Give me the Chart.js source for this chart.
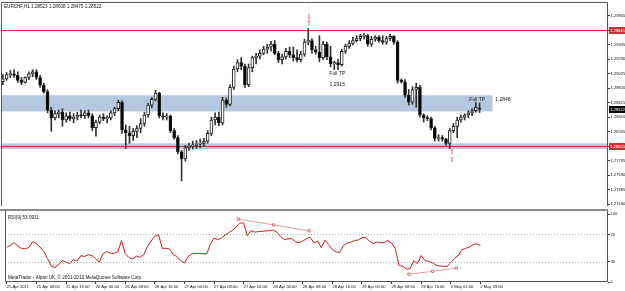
<!DOCTYPE html>
<html><head><meta charset="utf-8">
<script src="https://cdn.jsdelivr.net/npm/chart.js@4/dist/chart.umd.min.js"></script>
<style>
html,body{margin:0;padding:0;background:#fff;}
#wrap{position:relative;width:625px;height:291px;overflow:hidden;background:#fff;}
canvas{position:absolute;left:0;}
#c1{top:0;} #c2{top:209px;}
</style></head><body>
<div id="wrap"><canvas id="c1" width="625" height="209"></canvas><canvas id="c2" width="625" height="82"></canvas></div>
<script>
// ---------- DATA ----------
const symbolTitle = 'EURCHF,H1 1.28523 1.28608 1.28475 1.28522';
const copyrightText = 'MetaTrader - Alpari UK, \u00A9 2001-2010 MetaQuotes Software Corp.';
const rsiName = 'RSI(9)';
const timeLabels = ['25 Apr 2011','25 Apr 08:00','25 Apr 16:00','26 Apr 00:00','26 Apr 08:00','26 Apr 16:00','27 Apr 00:00','27 Apr 08:00','27 Apr 16:00','28 Apr 00:00','28 Apr 08:00','28 Apr 16:00','29 Apr 00:00','29 Apr 08:00','29 Apr 16:00','2 May 01:00','2 May 09:00'];
const barsPerLabel = 8;

const openP = [1.2891,1.2895,1.2901,1.2902,1.2900,1.2893,1.2890,1.2897,1.2902,1.2905,
1.2897,1.2886,1.2877,1.2851,1.2840,1.2846,1.2848,1.2837,1.2843,1.2839,
1.2841,1.2844,1.2843,1.2847,1.2843,1.2826,1.2834,1.2841,1.2839,1.2840,
1.2847,1.2853,1.2862,1.2823,1.2819,1.2815,1.2821,1.2825,1.2832,1.2844,
1.2858,1.2866,1.2875,1.2843,1.2841,1.2843,1.2822,1.2812,1.2792,1.2782,
1.2798,1.2800,1.2801,1.2803,1.2804,1.2807,1.2818,1.2837,1.2841,1.2833,
1.2865,1.2859,1.2883,1.2909,1.2918,1.2913,1.2887,1.2911,1.2925,1.2927,
1.2931,1.2937,1.2940,1.2944,1.2931,1.2922,1.2926,1.2934,1.2929,1.2925,
1.2922,1.2930,1.2947,1.2949,1.2936,1.2933,1.2925,1.2944,1.2926,1.2916,
1.2918,1.2915,1.2934,1.2941,1.2945,1.2949,1.2952,1.2955,1.2956,1.2944,
1.2951,1.2954,1.2949,1.2947,1.2952,1.2955,1.2947,1.2893,1.2891,1.2872,
1.2862,1.2880,1.2883,1.2844,1.2840,1.2839,1.2826,1.2811,1.2812,1.2810,
1.2804,1.2822,1.2828,1.2837,1.2841,1.2844,1.2847,1.2850,1.28523];
const highP = [1.2901,1.2904,1.2907,1.2908,1.2905,1.2897,1.2898,1.2905,1.2908,1.2908,
1.2900,1.2889,1.2880,1.2855,1.2850,1.2851,1.2853,1.2847,1.2848,1.2846,
1.2848,1.2851,1.2850,1.2851,1.2846,1.2837,1.2844,1.2846,1.2843,1.2850,
1.2855,1.2865,1.2864,1.2830,1.2828,1.2825,1.2829,1.2839,1.2848,1.2861,
1.2869,1.2879,1.2876,1.2847,1.2846,1.2844,1.2825,1.2815,1.2794,1.2801,
1.2804,1.2807,1.2808,1.2810,1.2811,1.2822,1.2841,1.2847,1.2848,1.2869,
1.2868,1.2887,1.2913,1.2922,1.2925,1.2916,1.2916,1.2927,1.2931,1.2936,
1.2941,1.2944,1.2948,1.2949,1.2934,1.2930,1.2938,1.2940,1.2940,1.2936,
1.2934,1.2951,1.2966,1.2952,1.2941,1.2956,1.2948,1.2947,1.2941,1.2920,
1.2923,1.2937,1.2944,1.2949,1.2954,1.2956,1.2958,1.2959,1.2958,1.2955,
1.2956,1.2956,1.2956,1.2955,1.2958,1.2956,1.2949,1.2895,1.2894,1.2880,
1.2884,1.2889,1.2886,1.2846,1.2843,1.2841,1.2828,1.2816,1.2815,1.2811,
1.2825,1.2832,1.2841,1.2844,1.2846,1.2850,1.2853,1.2862,1.28608];
const lowP = [1.2887,1.2893,1.2897,1.2897,1.2890,1.2887,1.2889,1.2894,1.2898,1.2894,
1.2883,1.2875,1.2847,1.2821,1.2837,1.2840,1.2828,1.2834,1.2836,1.2833,
1.2837,1.2840,1.2839,1.2840,1.2822,1.2814,1.2832,1.2836,1.2833,1.2837,
1.2843,1.2850,1.2818,1.2797,1.2804,1.2808,1.2812,1.2819,1.2828,1.2841,
1.2854,1.2864,1.2840,1.2837,1.2837,1.2819,1.2810,1.2789,1.2751,1.2779,
1.2794,1.2796,1.2797,1.2798,1.2800,1.2804,1.2815,1.2830,1.2829,1.2830,
1.2855,1.2857,1.2880,1.2905,1.2908,1.2883,1.2884,1.2905,1.2916,1.2923,
1.2929,1.2931,1.2934,1.2929,1.2918,1.2916,1.2923,1.2925,1.2920,1.2919,
1.2919,1.2927,1.2943,1.2931,1.2930,1.2919,1.2922,1.2922,1.2912,1.2908,
1.2908,1.2913,1.2931,1.2938,1.2943,1.2947,1.2949,1.2951,1.2941,1.2941,
1.2948,1.2947,1.2944,1.2944,1.2949,1.2944,1.2889,1.2889,1.2869,1.2858,
1.2859,1.2855,1.2841,1.2834,1.2836,1.2823,1.2807,1.2807,1.2807,1.2801,
1.2797,1.2819,1.2812,1.2834,1.2837,1.2840,1.2843,1.2848,1.28475];
const closeP = [1.2895,1.2901,1.2902,1.2900,1.2893,1.2890,1.2897,1.2902,1.2905,1.2897,
1.2886,1.2877,1.2851,1.2840,1.2846,1.2848,1.2837,1.2843,1.2839,1.2841,
1.2844,1.2843,1.2847,1.2843,1.2826,1.2834,1.2841,1.2839,1.2840,1.2847,
1.2853,1.2862,1.2823,1.2819,1.2815,1.2821,1.2825,1.2832,1.2844,1.2858,
1.2866,1.2875,1.2843,1.2841,1.2843,1.2822,1.2812,1.2792,1.2782,1.2798,
1.2800,1.2801,1.2803,1.2804,1.2807,1.2818,1.2837,1.2841,1.2833,1.2865,
1.2859,1.2883,1.2909,1.2918,1.2913,1.2887,1.2911,1.2925,1.2927,1.2931,
1.2937,1.2940,1.2944,1.2931,1.2922,1.2926,1.2934,1.2929,1.2925,1.2922,
1.2930,1.2947,1.2949,1.2936,1.2933,1.2925,1.2944,1.2926,1.2916,1.2918,
1.2915,1.2934,1.2941,1.2945,1.2949,1.2952,1.2955,1.2956,1.2944,1.2951,
1.2954,1.2949,1.2947,1.2952,1.2955,1.2947,1.2893,1.2891,1.2872,1.2862,
1.2880,1.2883,1.2844,1.2840,1.2839,1.2826,1.2811,1.2812,1.2810,1.2804,
1.2822,1.2828,1.2837,1.2841,1.2844,1.2847,1.2850,1.2855,1.28522];

const rsiValues = [51.3,53.5,58,52.8,49.4,48.7,51,59.4,56.5,51.3,
44.7,34.4,23.4,21.2,25.6,31.5,29.3,27,33,30.7,
38.8,37.4,40.3,38.8,34.4,29.3,41.8,44.7,42.2,42.2,
44.7,60.9,41.8,35.9,34,38.1,36.3,40.3,52,60.1,
67.5,69.7,49.6,49.6,48.4,40.3,37.4,31.5,27.8,37.4,
41.3,41.8,42.2,41.3,41.3,55,64.6,62.4,64.6,69,
72.6,76.3,80.7,86.5,87,68.2,75.6,73.4,74.1,74.6,
75.1,75.6,76.3,73.4,66.8,62.4,63.4,63.8,59.4,57.9,
60.1,63.8,65.9,57.9,60.1,50.6,61.6,55,47.6,44,
43.7,53.5,57.2,58.7,60.9,61.9,65.3,65.3,60.1,56.5,
58.7,57.9,57.9,60.9,57.2,49.1,24.1,23.1,19,19.7,
31.5,27,38.8,31.5,30.4,28.5,24.9,23.4,23.1,23.1,
28.5,34.9,38.8,47.6,49.4,51.3,55,56,53.9911];

const priceTicks = [1.27180,1.27385,1.27590,1.27795,1.28000,1.28205,1.28410,1.28615,1.28820,1.29025,1.29230,1.29435,1.29640,1.29845];
const rsiTicks = [0,30,70,100];
const rsiLevels = [30,70];

const resistanceLevel = 1.29645;
const supportLevel = 1.28000;
const upperZone = [1.2849, 1.2872];
const upperZoneEndBar = 131.5;
const lowerZone = [1.2796, 1.2804];

const noteTexts = [
  {bar: 89.8, price: 1.2902, text: 'Full TP'},
  {bar: 89.8, price: 1.2887, text: '1.2915'},
  {bar: 127.4, price: 1.2866, text: 'Full TP'},
  {bar: 134.3, price: 1.2866, text: '1.2848'}
];
const arrowMarks = [
  {bar: 82.2, price: 1.2982, glyph: '\u21E9'},
  {bar: 82.2, price: 1.2974, glyph: '\u21E7'},
  {bar: 120.7, price: 1.2792, glyph: '\u21E7'},
  {bar: 120.7, price: 1.2781, glyph: '\u21E7'}
];
const rsiTrendA = [{x: 62.6, y: 92.4}, {x: 72.1, y: 83.9}, {x: 81.7, y: 75.3}];
const rsiTrendB = [{x: 108.7, y: 11.4}, {x: 115.1, y: 15.7}, {x: 121.5, y: 20.4}];

// ---------- STYLE ----------
const FAM = '"Liberation Sans", Arial, sans-serif';
const FS = 4.6;
const AXFS = 4.1;
const X_MIN = -0.5, X_MAX = 162.5;
const RED = '#c83232';

function drawText(ctx, s, x, y, color, size, align) {
  ctx.save();
  ctx.font = size + 'px ' + FAM;
  ctx.fillStyle = color;
  ctx.textAlign = align || 'left';
  ctx.textBaseline = 'middle';
  ctx.fillText(s, x, y);
  ctx.restore();
}
function priceBox(chart, price, text, bg) {
  const {ctx, scales: {y}, chartArea: a} = chart;
  const py = y.getPixelForValue(price);
  ctx.save();
  ctx.fillStyle = bg;
  ctx.fillRect(a.right + 1, Math.round(py) - 3, 16, 7);
  ctx.restore();
  drawText(ctx, text, a.right + 2, Math.round(py) + 0.5, '#fff', AXFS, 'left');
}

const mainDecor = {
  id: 'mainDecor',
  beforeDatasetsDraw(chart) {
    const {ctx, chartArea: a, scales: {x, y}} = chart;
    ctx.save();
    ctx.beginPath(); ctx.rect(a.left, a.top, a.right - a.left, a.bottom - a.top); ctx.clip();
    ctx.fillStyle = '#b6c8df';
    let x1 = x.getPixelForValue(X_MIN), x2 = x.getPixelForValue(upperZoneEndBar);
    let y1 = y.getPixelForValue(upperZone[1]), y2 = y.getPixelForValue(upperZone[0]);
    ctx.fillRect(x1, y1, x2 - x1, y2 - y1);
    x2 = x.getPixelForValue(X_MAX);
    y1 = y.getPixelForValue(lowerZone[1]); y2 = y.getPixelForValue(lowerZone[0]);
    ctx.fillRect(x1, y1, x2 - x1, y2 - y1);
    ctx.strokeStyle = RED; ctx.lineWidth = 1;
    [resistanceLevel, supportLevel].forEach(p => {
      const py = Math.round(y.getPixelForValue(p)) + 0.5;
      ctx.beginPath(); ctx.moveTo(a.left, py); ctx.lineTo(a.right, py); ctx.stroke();
    });
    ctx.restore();
  },
  afterDraw(chart) {
    const {ctx, chartArea: a, scales: {x, y}} = chart;
    ctx.save();
    ctx.strokeStyle = '#555'; ctx.lineWidth = 1;
    ctx.beginPath();
    ctx.moveTo(a.left + 0.5, a.bottom); ctx.lineTo(a.left + 0.5, a.top - 0.5);
    ctx.lineTo(a.right - 0.5, a.top - 0.5); ctx.lineTo(a.right - 0.5, a.bottom);
    ctx.stroke();
    ctx.restore();
    drawText(ctx, symbolTitle, a.left + 3, a.top + 4, '#111', FS, 'left');
    noteTexts.forEach(n => drawText(ctx, n.text, x.getPixelForValue(n.bar), y.getPixelForValue(n.price), '#222', 5, 'center'));
    arrowMarks.forEach(m => drawText(ctx, m.glyph, x.getPixelForValue(m.bar), y.getPixelForValue(m.price), '#e03030', 7, 'center'));
    priceBox(chart, resistanceLevel, resistanceLevel.toFixed(5), RED);
    priceBox(chart, closeP[closeP.length - 1], closeP[closeP.length - 1].toFixed(5), '#000');
    priceBox(chart, supportLevel, supportLevel.toFixed(5), RED);
  }
};

const rsiDecor = {
  id: 'rsiDecor',
  beforeDatasetsDraw(chart) {
    const {ctx, chartArea: a, scales: {y}} = chart;
    ctx.save();
    ctx.strokeStyle = '#b0b0b0'; ctx.lineWidth = 1; ctx.setLineDash([1, 2]);
    rsiLevels.forEach(v => {
      const py = Math.round(y.getPixelForValue(v)) + 0.5;
      ctx.beginPath(); ctx.moveTo(a.left, py); ctx.lineTo(a.right, py); ctx.stroke();
    });
    ctx.restore();
  },
  afterDraw(chart) {
    const {ctx, chartArea: a} = chart;
    ctx.save();
    ctx.fillStyle = '#8a8a8a';
    ctx.fillRect(0, 0, a.right, 2);
    ctx.strokeStyle = '#555'; ctx.lineWidth = 1;
    ctx.beginPath();
    ctx.moveTo(a.left + 0.5, 2); ctx.lineTo(a.left + 0.5, a.bottom - 0.5);
    ctx.lineTo(a.right - 0.5, a.bottom - 0.5); ctx.lineTo(a.right - 0.5, 2);
    ctx.stroke();
    ctx.restore();
    drawText(ctx, rsiName + ' ' + rsiValues[rsiValues.length - 1].toFixed(4), a.left + 3, a.top + 4, '#111', FS, 'left');
    drawText(ctx, copyrightText, a.left + 3, a.bottom - 4.5, '#111', FS, 'left');
  }
};

Chart.defaults.animation = false;
Chart.defaults.font.family = FAM;

new Chart(document.getElementById('c1'), {
  type: 'bar',
  data: {
    datasets: [
      {
        label: 'body', order: 0, grouped: false,
        data: openP.map((o, i) => ({x: i, y: [Math.min(o, closeP[i]), Math.max(o, closeP[i])]})),
        backgroundColor: c => (closeP[c.dataIndex] >= openP[c.dataIndex] ? '#ffffff' : '#000000'),
        borderColor: '#222', borderWidth: 1, borderSkipped: false,
        barThickness: 3, minBarLength: 1
      },
      {
        label: 'wick', order: 1, grouped: false,
        data: highP.map((h, i) => ({x: i, y: [lowP[i], h]})),
        backgroundColor: '#333', barThickness: 1
      }
    ]
  },
  options: {
    responsive: false, devicePixelRatio: 1,
    layout: {padding: {left: 1, top: 2, right: 0, bottom: 0}},
    plugins: {legend: {display: false}, tooltip: {enabled: false}},
    scales: {
      x: {type: 'linear', min: X_MIN, max: X_MAX, offset: false, display: false},
      y: {
        position: 'right', min: 1.27155, max: 1.30022,
        afterBuildTicks: s => { s.ticks = priceTicks.map(v => ({value: v})); },
        afterFit: s => { s.width = 17; },
        ticks: {font: {size: AXFS}, color: '#111', padding: 0.5, autoSkip: false, callback: v => Number(v).toFixed(5)},
        grid: {drawOnChartArea: false, tickLength: 2, color: '#333'},
        border: {display: false}
      }
    }
  },
  plugins: [mainDecor]
});

new Chart(document.getElementById('c2'), {
  type: 'line',
  data: {
    datasets: [
      {
        label: 'RSI', data: rsiValues.map((v, i) => ({x: i, y: v})),
        borderColor: '#c81e1e', borderWidth: 1, pointRadius: 0, tension: 0
      },
      {
        label: 'trendA', data: rsiTrendA,
        borderColor: '#e8a0a0', borderWidth: 1, pointStyle: 'rect', pointRadius: 1.6,
        pointBackgroundColor: '#fff', pointBorderColor: '#d87070', pointBorderWidth: 1
      },
      {
        label: 'trendB', data: rsiTrendB,
        borderColor: '#e8a0a0', borderWidth: 1, pointStyle: 'rect', pointRadius: 1.6,
        pointBackgroundColor: '#fff', pointBorderColor: '#d87070', pointBorderWidth: 1
      }
    ]
  },
  options: {
    responsive: false, devicePixelRatio: 1,
    layout: {padding: {left: 1, top: 3, right: 0, bottom: 0}},
    plugins: {legend: {display: false}, tooltip: {enabled: false}},
    scales: {
      x: {
        type: 'linear', min: X_MIN, max: X_MAX, offset: false,
        afterBuildTicks: s => { s.ticks = timeLabels.map((t, k) => ({value: k * barsPerLabel})); },
        afterFit: s => { s.height = 9; },
        ticks: {font: {size: AXFS}, color: '#111', padding: 0, align: 'start', maxRotation: 0, autoSkip: false,
          callback: (v, idx) => timeLabels[idx]},
        grid: {drawOnChartArea: false, tickLength: 2, color: '#333'},
        border: {display: false}
      },
      y: {
        position: 'right', min: 0, max: 100,
        afterBuildTicks: s => { s.ticks = rsiTicks.map(v => ({value: v})); },
        afterFit: s => { s.width = 17; },
        ticks: {font: {size: AXFS}, color: '#111', padding: 0.5, autoSkip: false},
        grid: {drawOnChartArea: false, tickLength: 2, color: '#333'},
        border: {display: false}
      }
    }
  },
  plugins: [rsiDecor]
});
</script>
</body></html>
